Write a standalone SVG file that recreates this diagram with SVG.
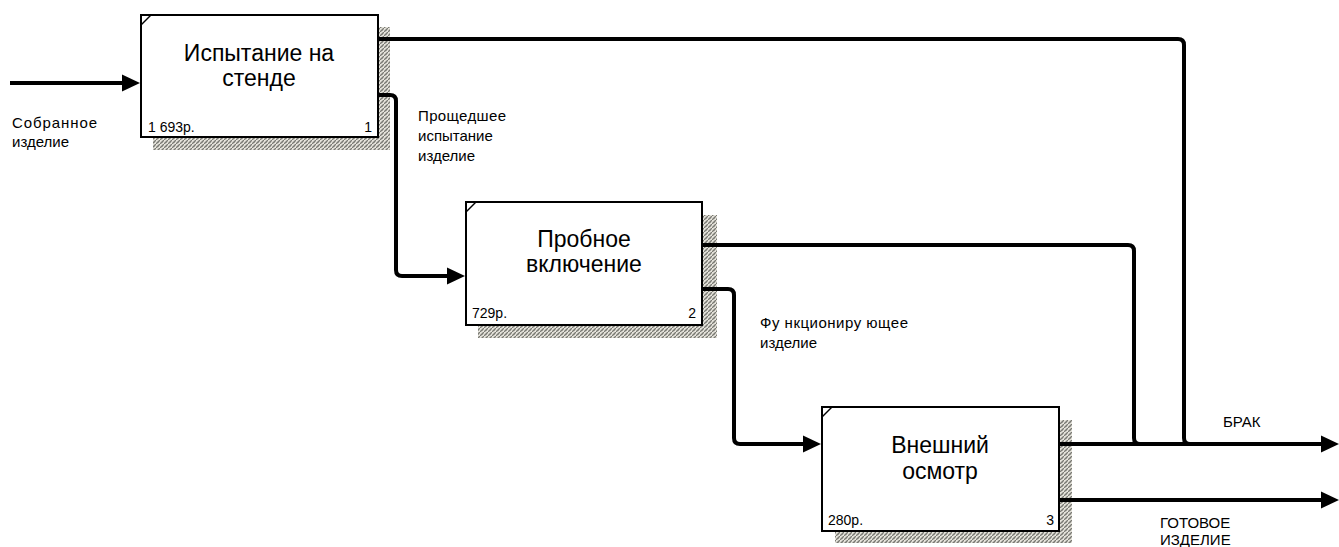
<svg xmlns="http://www.w3.org/2000/svg" width="1339" height="547" viewBox="0 0 1339 547">
<defs>
<pattern id="hatch" width="4" height="4" patternUnits="userSpaceOnUse">
<rect width="4" height="4" fill="#e4e2da"/>
<path d="M0,4 L2,2 M2,2 L4,0" stroke="#7a7a74" stroke-width="1.3"/>
<rect x="2" y="2" width="1" height="1" fill="#9a9a94"/>
</pattern>
<marker id="arr" markerUnits="userSpaceOnUse" markerWidth="20" markerHeight="20" refX="0" refY="9" orient="auto" overflow="visible">
<path d="M0,0.5 L18,9 L0,17.5 Z" fill="#000"/>
</marker>
</defs>
<style>
.box{fill:#fff;stroke:#000;stroke-width:2}
.sh{fill:url(#hatch)}
.t{font-family:"Liberation Sans",Arial,sans-serif;fill:#000}
.title{font-size:23px;text-anchor:middle}
.num{font-size:14px}
.lbl{font-size:15px}
.c{fill:none;stroke:#000;stroke-width:4}
.diag{stroke:#000;stroke-width:1.5}
</style>
<rect width="1339" height="547" fill="#fff"/>

<g id="node1">
<rect class="sh" x="153" y="27" width="237" height="123"/>
<rect class="box" x="141" y="15" width="237" height="122"/>
<line class="diag" x1="141" y1="25" x2="151" y2="15"/>
<text class="t title" x="259" y="61">Испытание на</text>
<text class="t title" x="259" y="86">стенде</text>
<text class="t num" x="148" y="132">1 693р.</text>
<text class="t num" x="372" y="132" text-anchor="end">1</text>
</g>

<g id="node2">
<rect class="sh" x="478" y="215" width="239" height="123"/>
<rect class="box" x="466" y="202" width="236" height="123"/>
<line class="diag" x1="466" y1="212" x2="476" y2="202"/>
<text class="t title" x="584" y="247">Пробное</text>
<text class="t title" x="584" y="272">включение</text>
<text class="t num" x="472" y="318">729р.</text>
<text class="t num" x="696" y="318" text-anchor="end">2</text>
</g>

<g id="node3">
<rect class="sh" x="835" y="420" width="237" height="123"/>
<rect class="box" x="822" y="407" width="237" height="124"/>
<line class="diag" x1="822" y1="417" x2="832" y2="407"/>
<text class="t title" x="940" y="453">Внешний</text>
<text class="t title" x="940" y="479">осмотр</text>
<text class="t num" x="828" y="525">280р.</text>
<text class="t num" x="1054" y="525" text-anchor="end">3</text>
</g>

<g id="connectors">
<path class="c" d="M10,83 H122" marker-end="url(#arr)"/>
<path class="c" d="M378,39 H1178 Q1184,39 1184,45 V438 Q1184,444 1190,444"/>
<path class="c" d="M378,95 H390 Q396,95 396,101 V270 Q396,276 402,276 H447" marker-end="url(#arr)"/>
<path class="c" d="M702,245 H1128 Q1134,245 1134,251 V438 Q1134,444 1140,444"/>
<path class="c" d="M702,289 H728 Q734,289 734,295 V438 Q734,444 740,444 H803" marker-end="url(#arr)"/>
<path class="c" d="M1059,444 H1321" marker-end="url(#arr)"/>
<path class="c" d="M1059,500 H1321" marker-end="url(#arr)"/>
</g>

<g id="labels">
<text class="t lbl" x="12" y="128" textLength="85" lengthAdjust="spacing">Собранное</text>
<text class="t lbl" x="12" y="147">изделие</text>
<text class="t lbl" x="418" y="121" textLength="88" lengthAdjust="spacing">Прощедшее</text>
<text class="t lbl" x="418" y="141">испытание</text>
<text class="t lbl" x="418" y="161">изделие</text>
<text class="t lbl" x="760" y="328" textLength="148" lengthAdjust="spacing">Фу нкциониру ющее</text>
<text class="t lbl" x="760" y="348">изделие</text>
<text class="t lbl" x="1223" y="427">БРАК</text>
<text class="t lbl" x="1160" y="528">ГОТОВОЕ</text>
<text class="t lbl" x="1160" y="545">ИЗДЕЛИЕ</text>
</g>
</svg>
